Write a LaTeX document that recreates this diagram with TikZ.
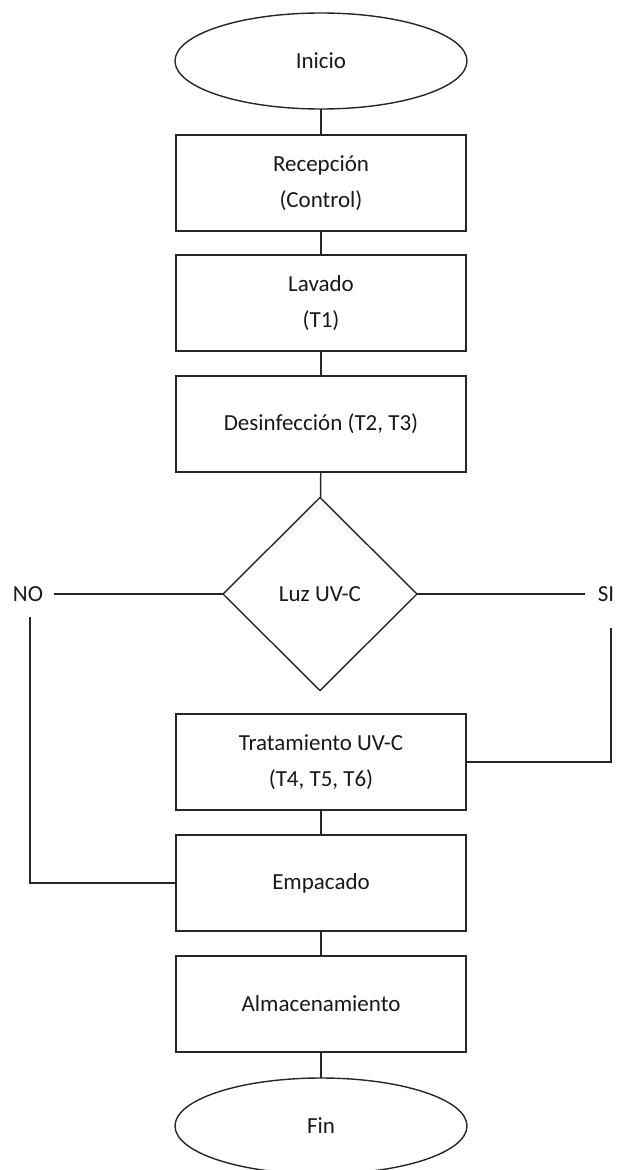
\documentclass[tikz,border=0pt]{standalone}
\usepackage{fontspec}
\setmainfont{Carlito}
\usetikzlibrary{shapes.geometric}
\begin{document}
\begin{tikzpicture}[x=1pt,y=-1pt,
  every node/.style={font=\fontsize{23}{36}\selectfont, text=black!90, align=center},
  conn/.style={line width=1.4pt, draw=black!85},
  stepbox/.style={draw=black!85, line width=1.4pt, rectangle, minimum width=290pt, minimum height=96pt, inner sep=0pt, outer sep=0pt},
  term/.style={draw=black!85, line width=1.4pt, ellipse, minimum width=292pt, minimum height=96pt, inner sep=0pt, outer sep=0pt},
  decis/.style={draw=black!85, line width=1.4pt, diamond, minimum width=194pt, minimum height=193pt, inner sep=0pt, outer sep=0pt},
  lbl/.style={inner sep=0pt}]
\useasboundingbox (0,0) rectangle (620,1170);
\node[term] (ini) at (321,61) {Inicio};
\node[stepbox] (rec) at (321,183) {Recepción\\(Control)};
\node[stepbox] (lav) at (321,303) {Lavado\\(T1)};
\node[stepbox] (des) at (321,424) {Desinfección (T2, T3)};
\node[decis] (dec) at (320,594) {Luz UV-C};
\node[stepbox] (tra) at (321,762) {Tratamiento UV-C\\(T4, T5, T6)};
\node[stepbox] (emp) at (321,883) {Empacado};
\node[stepbox] (alm) at (321,1004) {Almacenamiento};
\node[term] (fin) at (321,1126) {Fin};
\node[lbl] (no) at (28,594) {NO};
\node[lbl] (si) at (606,594) {SI};
\coordinate (nob) at (30,617);
\coordinate (sib) at (611,628);
\draw[conn] (ini) -- (rec);
\draw[conn] (rec) -- (lav);
\draw[conn] (lav) -- (des);
\draw[conn] (des) -- (dec);
\draw[conn] (tra) -- (emp);
\draw[conn] (emp) -- (alm);
\draw[conn] (alm) -- (fin);
\draw[conn] (dec.west) -- ([xshift=11pt]no.east);
\draw[conn] (dec.east) -- ([xshift=-13pt]si.west);
\draw[conn] (nob) |- (emp.west);
\draw[conn] (sib) |- (tra.east);
\end{tikzpicture}
\end{document}
